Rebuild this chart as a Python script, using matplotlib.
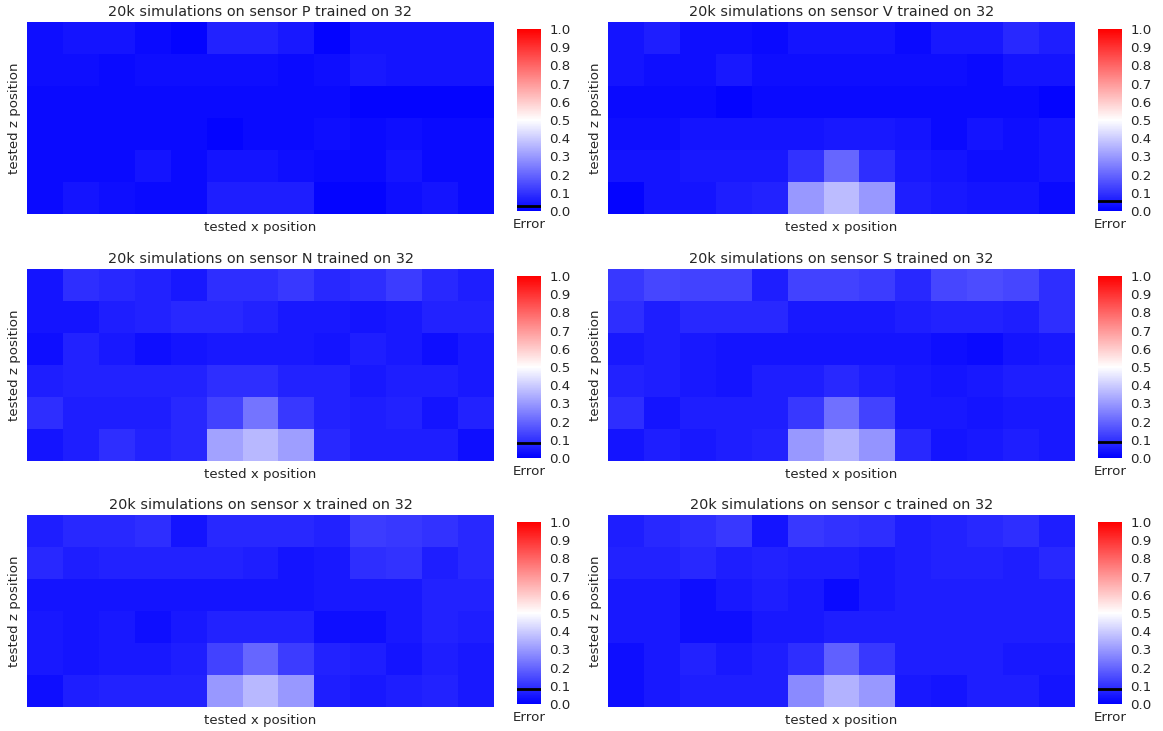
import numpy as np
import matplotlib
matplotlib.use("Agg")
import matplotlib.pyplot as plt

plt.rcParams["font.family"] = "DejaVu Sans"
plt.rcParams["text.color"] = "#262626"
plt.rcParams["axes.labelcolor"] = "#262626"
plt.rcParams["xtick.color"] = "#262626"
plt.rcParams["ytick.color"] = "#262626"

sensors = ["P", "V", "N", "S", "x", "c"]

# error grids, 6 z rows (top -> bottom) x 13 x columns
err_P = [
    [0.03, 0.04, 0.04, 0.02, 0.01, 0.07, 0.07, 0.05, 0.01, 0.04, 0.04, 0.04, 0.04],
    [0.03, 0.03, 0.02, 0.03, 0.03, 0.03, 0.03, 0.02, 0.03, 0.05, 0.04, 0.04, 0.04],
    [0.02, 0.02, 0.02, 0.02, 0.02, 0.02, 0.02, 0.02, 0.02, 0.01, 0.01, 0.01, 0.01],
    [0.02, 0.02, 0.02, 0.02, 0.02, 0.01, 0.02, 0.02, 0.03, 0.02, 0.03, 0.02, 0.02],
    [0.02, 0.02, 0.02, 0.04, 0.02, 0.04, 0.04, 0.03, 0.02, 0.02, 0.04, 0.02, 0.02],
    [0.02, 0.04, 0.03, 0.02, 0.02, 0.06, 0.06, 0.06, 0.01, 0.01, 0.03, 0.04, 0.02],
]
err_V = [
    [0.04, 0.06, 0.03, 0.03, 0.02, 0.04, 0.04, 0.04, 0.02, 0.05, 0.05, 0.08, 0.06],
    [0.04, 0.03, 0.03, 0.05, 0.03, 0.03, 0.03, 0.03, 0.03, 0.03, 0.02, 0.04, 0.04],
    [0.02, 0.02, 0.02, 0.01, 0.02, 0.02, 0.02, 0.02, 0.02, 0.02, 0.02, 0.02, 0.01],
    [0.03, 0.03, 0.04, 0.04, 0.04, 0.04, 0.05, 0.05, 0.04, 0.02, 0.04, 0.03, 0.04],
    [0.04, 0.04, 0.05, 0.05, 0.05, 0.10, 0.20, 0.09, 0.05, 0.04, 0.03, 0.03, 0.04],
    [0.01, 0.04, 0.04, 0.06, 0.07, 0.30, 0.37, 0.30, 0.06, 0.05, 0.04, 0.04, 0.02],
]
err_N = [
    [0.04, 0.09, 0.08, 0.07, 0.05, 0.09, 0.09, 0.11, 0.08, 0.09, 0.12, 0.08, 0.06],
    [0.04, 0.04, 0.06, 0.07, 0.08, 0.08, 0.07, 0.05, 0.05, 0.04, 0.05, 0.07, 0.07],
    [0.03, 0.07, 0.05, 0.03, 0.04, 0.05, 0.05, 0.05, 0.04, 0.06, 0.05, 0.03, 0.05],
    [0.06, 0.07, 0.07, 0.07, 0.07, 0.09, 0.09, 0.07, 0.07, 0.05, 0.06, 0.06, 0.05],
    [0.09, 0.06, 0.06, 0.06, 0.08, 0.13, 0.23, 0.11, 0.07, 0.06, 0.07, 0.04, 0.07],
    [0.04, 0.06, 0.09, 0.07, 0.08, 0.32, 0.36, 0.31, 0.08, 0.06, 0.06, 0.06, 0.03],
]
err_S = [
    [0.11, 0.14, 0.13, 0.13, 0.06, 0.13, 0.13, 0.12, 0.08, 0.14, 0.15, 0.14, 0.09],
    [0.09, 0.06, 0.08, 0.08, 0.08, 0.05, 0.05, 0.05, 0.06, 0.07, 0.07, 0.06, 0.09],
    [0.05, 0.06, 0.05, 0.04, 0.04, 0.04, 0.04, 0.04, 0.04, 0.03, 0.02, 0.04, 0.05],
    [0.07, 0.06, 0.05, 0.04, 0.06, 0.06, 0.08, 0.06, 0.05, 0.04, 0.05, 0.06, 0.06],
    [0.09, 0.04, 0.06, 0.06, 0.06, 0.11, 0.22, 0.13, 0.05, 0.05, 0.04, 0.05, 0.05],
    [0.04, 0.06, 0.05, 0.06, 0.07, 0.30, 0.35, 0.29, 0.08, 0.04, 0.05, 0.06, 0.05],
]
err_x = [
    [0.06, 0.08, 0.08, 0.09, 0.04, 0.08, 0.08, 0.08, 0.07, 0.12, 0.11, 0.10, 0.08],
    [0.08, 0.06, 0.07, 0.07, 0.07, 0.07, 0.06, 0.04, 0.05, 0.09, 0.10, 0.06, 0.08],
    [0.04, 0.04, 0.04, 0.04, 0.04, 0.04, 0.04, 0.04, 0.05, 0.05, 0.05, 0.07, 0.07],
    [0.05, 0.04, 0.05, 0.03, 0.05, 0.07, 0.07, 0.07, 0.03, 0.03, 0.05, 0.07, 0.06],
    [0.05, 0.04, 0.05, 0.05, 0.06, 0.13, 0.20, 0.12, 0.07, 0.06, 0.04, 0.06, 0.05],
    [0.03, 0.06, 0.07, 0.07, 0.07, 0.30, 0.36, 0.30, 0.06, 0.05, 0.06, 0.07, 0.05],
]
err_c = [
    [0.06, 0.08, 0.09, 0.11, 0.04, 0.11, 0.10, 0.09, 0.06, 0.07, 0.08, 0.09, 0.06],
    [0.07, 0.07, 0.08, 0.06, 0.07, 0.06, 0.06, 0.05, 0.06, 0.07, 0.07, 0.06, 0.08],
    [0.05, 0.05, 0.03, 0.05, 0.06, 0.05, 0.02, 0.05, 0.06, 0.06, 0.06, 0.06, 0.06],
    [0.05, 0.05, 0.03, 0.03, 0.05, 0.05, 0.06, 0.06, 0.06, 0.06, 0.06, 0.06, 0.06],
    [0.03, 0.05, 0.07, 0.05, 0.06, 0.09, 0.19, 0.11, 0.06, 0.06, 0.06, 0.05, 0.05],
    [0.03, 0.05, 0.06, 0.06, 0.06, 0.27, 0.35, 0.30, 0.05, 0.04, 0.06, 0.06, 0.04],
]
grids = [err_P, err_V, err_N, err_S, err_x, err_c]

# mean error marked on each colorbar
mean_err = [0.03, 0.055, 0.08, 0.09, 0.08, 0.08]

cbar_ticks = [0.0, 0.1, 0.2, 0.3, 0.4, 0.5, 0.6, 0.7, 0.8, 0.9, 1.0]

fig = plt.figure(figsize=(11.63, 7.31), dpi=100)
W, H = 1163.0, 731.0

hm_left = [27, 608]
cb_left = [517, 1098]
row_top = [22, 269, 515]

for k in range(6):
    r = k // 2
    c = k % 2
    top = row_top[r]
    ax = fig.add_axes([hm_left[c] / W, 1 - (top + 192) / H, 467 / W, 192 / H])
    cax = fig.add_axes([cb_left[c] / W, 1 - (top + 189) / H, 24 / W, 182 / H])

    data = np.array(grids[k])
    im = ax.pcolormesh(data, cmap="bwr", vmin=0, vmax=1)
    ax.set_ylim(data.shape[0], 0)
    ax.set_xticks([])
    ax.set_yticks([])
    for s in ax.spines.values():
        s.set_visible(False)
    ax.set_title("20k simulations on sensor " + sensors[k] + " trained on 32", fontsize=10.4, pad=4)
    ax.set_xlabel("tested x position", fontsize=9.6, labelpad=5)
    ax.set_ylabel("tested z position", fontsize=9.6, labelpad=4)

    cb = fig.colorbar(im, cax=cax, ticks=cbar_ticks)
    cb.outline.set_visible(False)
    cax.tick_params(length=0, labelsize=9.6, pad=6)
    cax.axhline(mean_err[k], color="black", lw=2)
    cax.set_xlabel("Error", fontsize=9.6, labelpad=5)

fig.savefig("out.png", dpi=100)
